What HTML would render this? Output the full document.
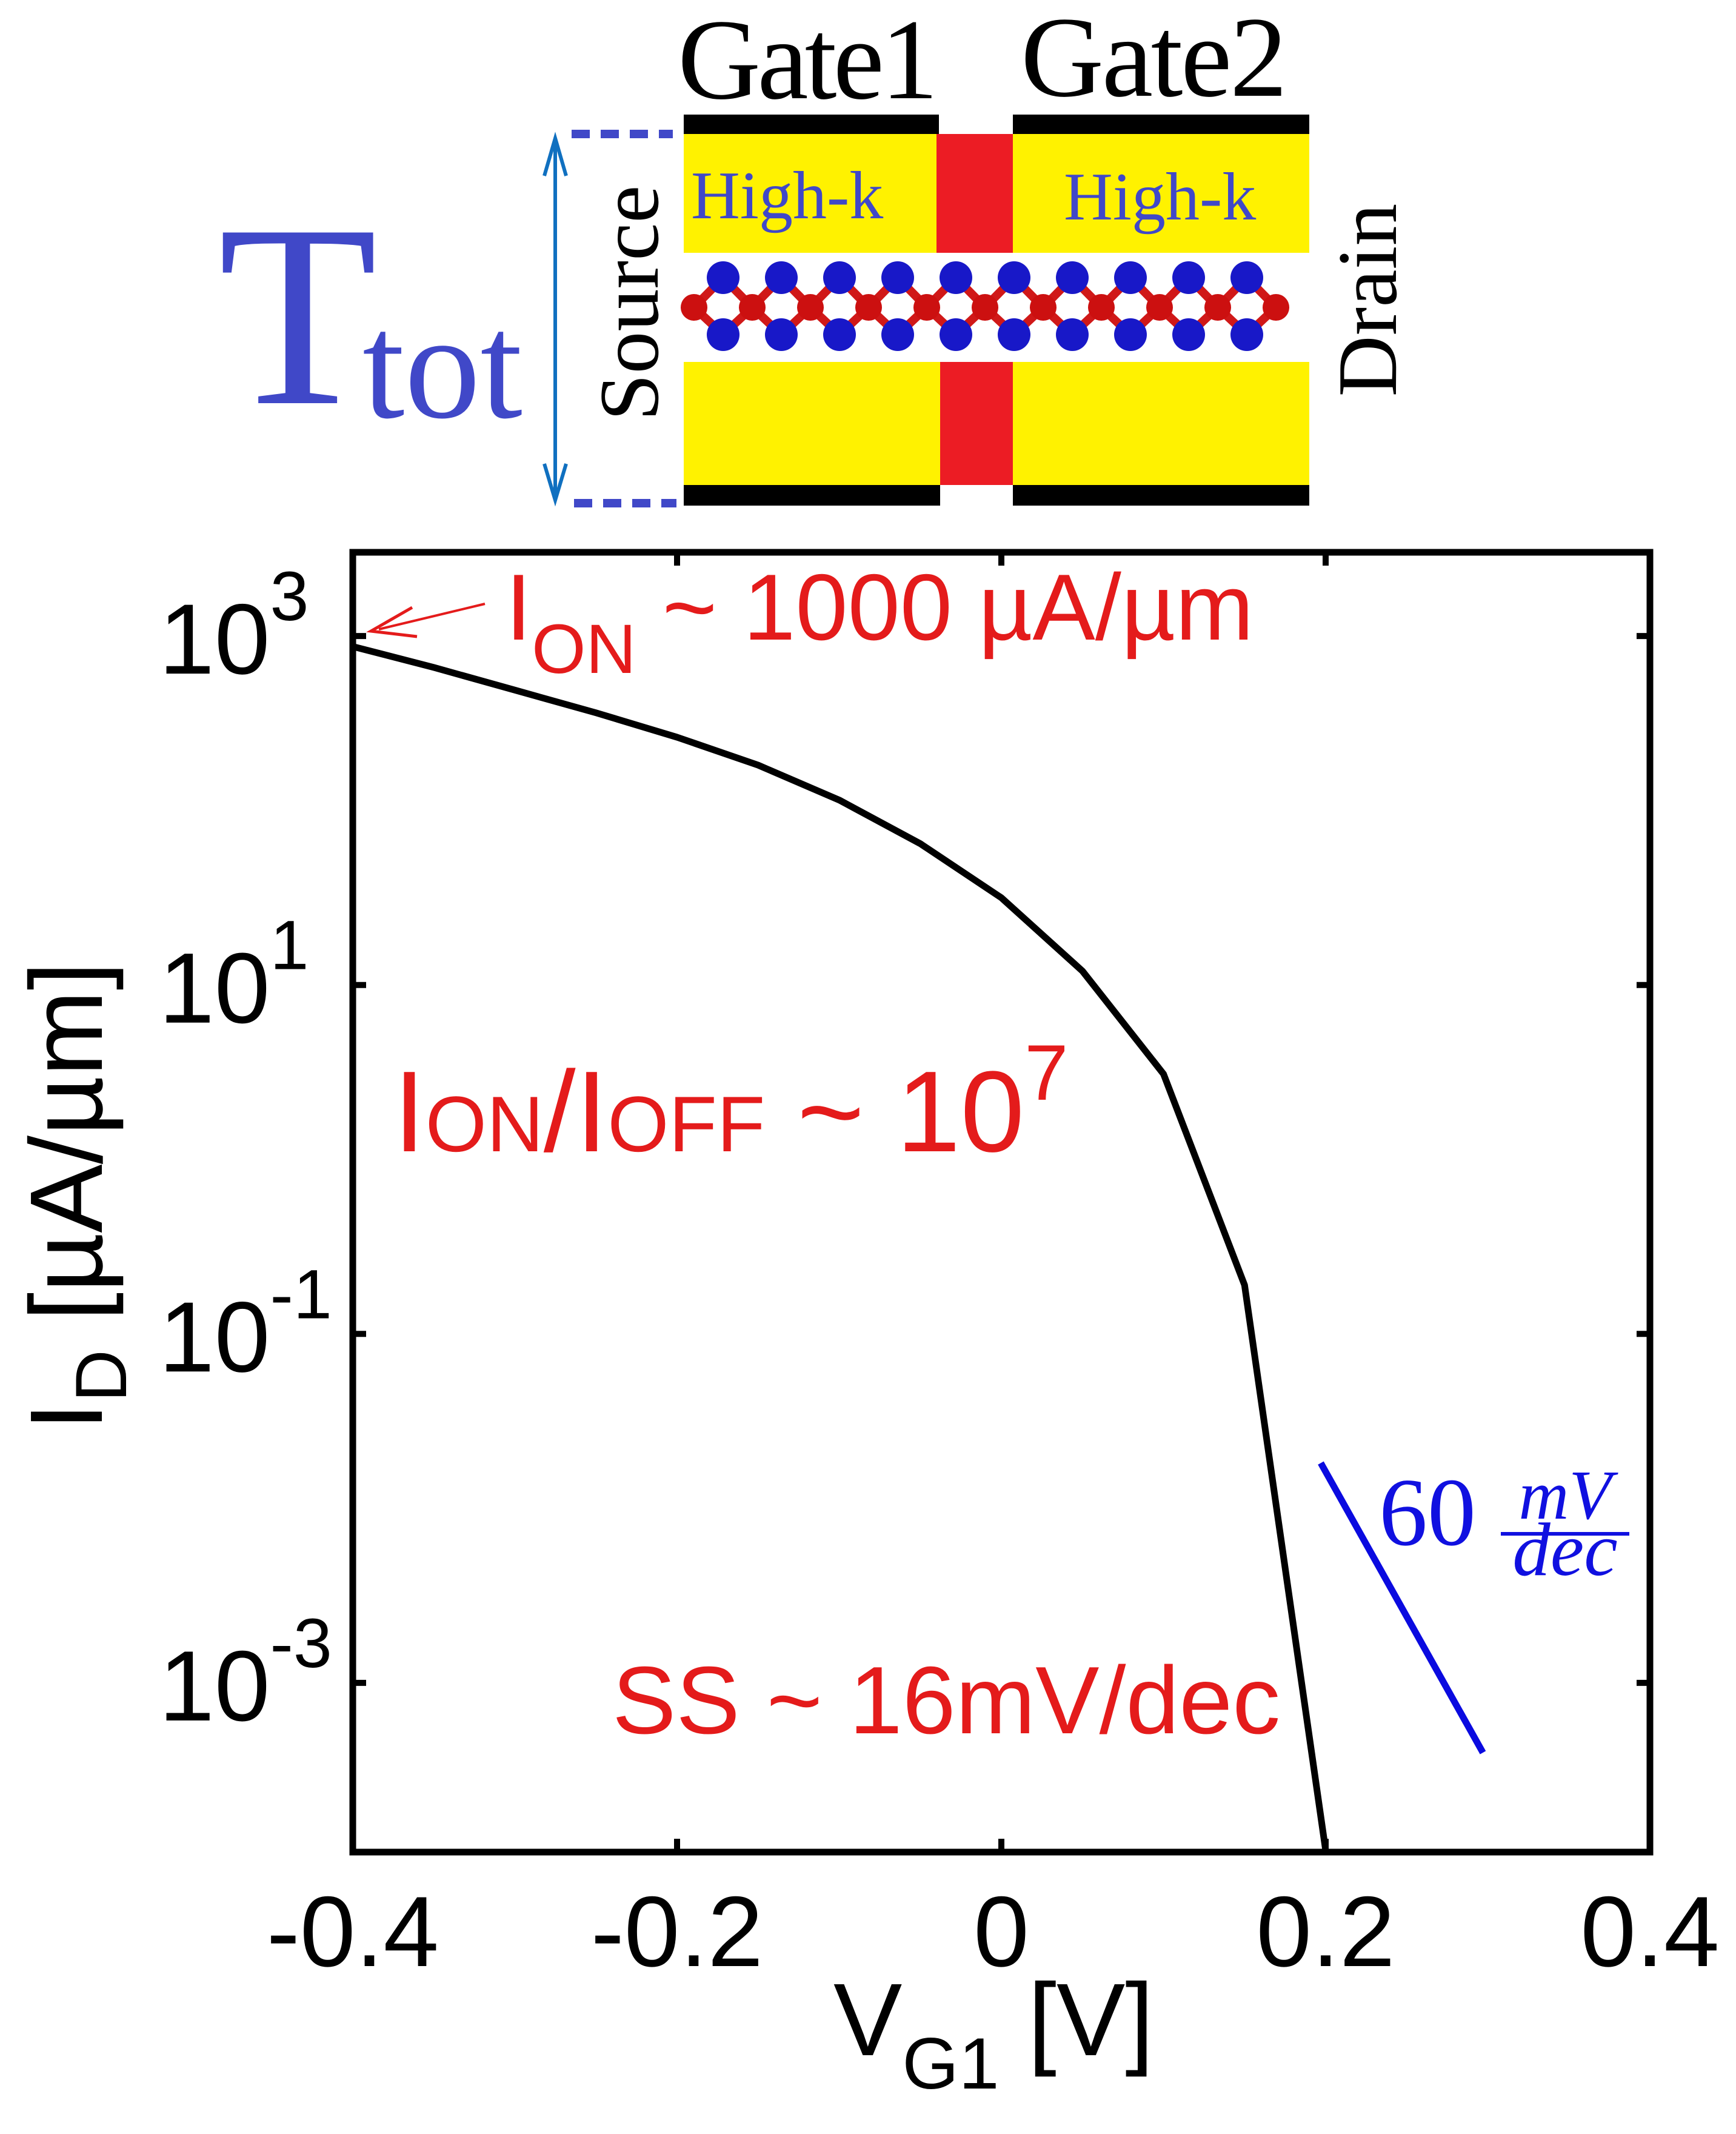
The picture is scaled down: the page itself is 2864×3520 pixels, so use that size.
<!DOCTYPE html>
<html><head><meta charset="utf-8"><style>
html,body{margin:0;padding:0;background:#fff;}
svg{display:block;}
</style></head><body>
<svg id="chart" xmlns="http://www.w3.org/2000/svg" width="2864" height="3520" viewBox="0 0 2864 3520">
  <g id="schematic">
    <rect x="1128" y="189" width="421" height="32" fill="#000"/>
    <rect x="1671" y="189" width="489" height="32" fill="#000"/>
    <rect x="1128" y="221" width="1032" height="196" fill="#fff200"/>
    <rect x="1545" y="221" width="126" height="196" fill="#ec1c24"/>
    <rect x="1128" y="597" width="1032" height="203" fill="#fff200"/>
    <rect x="1551" y="597" width="120" height="203" fill="#ec1c24"/>
    <rect x="1128" y="800" width="423" height="34" fill="#000"/>
    <rect x="1671" y="800" width="489" height="34" fill="#000"/>
    <g id="molecule"></g>
    <line x1="943" y1="221" x2="1110" y2="221" stroke="#4048c8" stroke-width="14" stroke-dasharray="30,18"/>
    <line x1="947" y1="830" x2="1116" y2="830" stroke="#4048c8" stroke-width="14" stroke-dasharray="30,18"/>
    <line x1="916" y1="235" x2="916" y2="815" stroke="#1070c0" stroke-width="6"/>
    <path d="M898,290 L916,228 L934,290" fill="none" stroke="#1070c0" stroke-width="6"/>
    <path d="M898,765 L916,825 L934,765" fill="none" stroke="#1070c0" stroke-width="6"/>
    <text x="360" y="665" font-family="Liberation Serif, serif" font-size="430" fill="#4048c8">T</text>
    <text x="598" y="688" font-family="Liberation Serif, serif" font-size="250" fill="#4048c8">tot</text>
    <text x="1118" y="162" font-family="Liberation Serif, serif" font-size="190" fill="#000" textLength="430">Gate1</text>
    <text x="1684" y="158" font-family="Liberation Serif, serif" font-size="190" fill="#000" textLength="440">Gate2</text>
    <text x="1140" y="360" font-family="Liberation Serif, serif" font-size="112" fill="#4048c8">High-k</text>
    <text x="1755" y="362" font-family="Liberation Serif, serif" font-size="112" fill="#4048c8">High-k</text>
    <text transform="translate(1085,500) rotate(-90)" text-anchor="middle" font-family="Liberation Serif, serif" font-size="140" fill="#000">Source</text>
    <text transform="translate(2303,495) rotate(-90)" text-anchor="middle" font-family="Liberation Serif, serif" font-size="140" fill="#000">Drain</text>
  </g>
  <g id="plot"></g>
  <rect x="582" y="911" width="2140" height="2144" fill="none" stroke="#000" stroke-width="11"/>
  <text transform="translate(168,2360) rotate(-90)" font-family="Liberation Sans, sans-serif" font-size="170" fill="#000">I<tspan font-size="120" dy="40">D</tspan><tspan dy="-40"> [µA/µm]</tspan></text>
  <text x="1375" y="3390" font-family="Liberation Sans, sans-serif" font-size="170" fill="#000">V<tspan font-size="120" dy="55">G1</tspan><tspan dy="-55"> [V]</tspan></text>
  <line x1="800" y1="996" x2="625" y2="1038" stroke="#e41b1b" stroke-width="4"/>
  <path d="M680,1002 L612,1041 L688,1050" fill="none" stroke="#e41b1b" stroke-width="5"/>
  <text x="834" y="1055" font-family="Liberation Sans, sans-serif" font-size="155" fill="#e41b1b">I<tspan font-size="115" dy="55">ON</tspan><tspan dy="-55"> ~ 1000 µA/µm</tspan></text>
  <text x="649" y="1899" font-family="Liberation Sans, sans-serif" font-size="190" fill="#e41b1b">I<tspan font-size="130">ON</tspan><tspan>/I</tspan><tspan font-size="130">OFF</tspan><tspan> ~ 10</tspan><tspan font-size="130" dy="-85">7</tspan></text>
  <text x="1010" y="2859" font-family="Liberation Sans, sans-serif" font-size="158" fill="#e41b1b">SS ~ 16mV/dec</text>
  <text x="2275" y="2548" font-family="Liberation Serif, serif" font-size="160" fill="#1010e0">60</text>
  <text x="2582" y="2505" text-anchor="middle" font-family="Liberation Serif, serif" font-style="italic" font-size="115" fill="#1010e0">mV</text>
  <line x1="2476" y1="2530" x2="2688" y2="2530" stroke="#1010e0" stroke-width="6"/>
  <text x="2582" y="2598" text-anchor="middle" font-family="Liberation Serif, serif" font-style="italic" font-size="125" fill="#1010e0">dec</text>
</svg>
<script>
const vgValues = [-0.4,-0.35,-0.3,-0.25,-0.2,-0.15,-0.1,-0.05,0,0.05,0.1,0.15,0.2];
const logIdValues = [2.94,2.82,2.69,2.56,2.42,2.26,2.06,1.81,1.50,1.08,0.49,-0.72,-3.96];
const refVg = [0.197,0.297];
const refLogId = [-1.74,-3.40];
const xTicks = [-0.4,-0.2,0,0.2,0.4];
const xTickLabels = ["-0.4","-0.2","0","0.2","0.4"];
const yTicks = [3,1,-1,-3];
const yTickExps = ["3","1","-1","-3"];

const NS="http://www.w3.org/2000/svg";
const L=582,R=2722,T=911,B=3055;
const xMin=-0.4,xMax=0.4,yMin=-3.97,yMax=3.48;
function sx(v){return L+(v-xMin)/(xMax-xMin)*(R-L);}
function sy(v){return B-(v-yMin)/(yMax-yMin)*(B-T);}
function mk(tag,attrs,parent){const e=document.createElementNS(NS,tag);for(const k in attrs)e.setAttribute(k,attrs[k]);parent.appendChild(e);return e;}

const plot=document.getElementById('plot');
const defs=mk('defs',{},plot);
const cp=mk('clipPath',{id:'clip'},defs);
mk('rect',{x:L,y:T,width:R-L,height:B-T},cp);

xTicks.forEach((t,i)=>{
  const x=sx(t);
  const a=mk('line',{x1:x,y1:B,x2:x,y2:B-22,stroke:'#000','stroke-width':10},plot);
  
  
  const b=mk('line',{x1:x,y1:T,x2:x,y2:T+22,stroke:'#000','stroke-width':10},plot);
  
  
  const tx=mk('text',{x:x,y:3243,'text-anchor':'middle','font-family':'Liberation Sans, sans-serif','font-size':165,fill:'#000'},plot);
  tx.textContent=xTickLabels[i];
  
  
});
yTicks.forEach((t,i)=>{
  const y=sy(t);
  const a=mk('line',{x1:L,y1:y,x2:L+22,y2:y,stroke:'#000','stroke-width':10},plot);
  
  
  const b=mk('line',{x1:R,y1:y,x2:R-22,y2:y,stroke:'#000','stroke-width':10},plot);
  
  
  const tx=mk('text',{x:262,y:y+62,'font-family':'Liberation Sans, sans-serif','font-size':165,fill:'#000'},plot);
  
  
  const base=mk('tspan',{},tx); base.textContent='10';
  const sup=mk('tspan',{'font-size':115,dy:-88},tx); sup.textContent=yTickExps[i];
});

const pts=vgValues.map((v,i)=>sx(v)+','+sy(logIdValues[i])).join(' ');
const curve=mk('polyline',{points:pts,fill:'none',stroke:'#000','stroke-width':11,'stroke-linejoin':'round','clip-path':'url(#clip)'},plot);



const ref=mk('line',{x1:sx(refVg[0]),y1:sy(refLogId[0]),x2:sx(refVg[1]),y2:sy(refLogId[1]),stroke:'#0a0ae0','stroke-width':11},plot);



// molecule decoration
const mol=document.getElementById('molecule');
const n=11, x0=1145, dx=96;
for(let i=0;i<n;i++){
  const xr=x0+i*dx, xb=xr+dx/2;
  if(i<n-1){
    const l1=mk('path',{d:`M${xr},507 L${xb},458 L${xr+dx},507 L${xb},552 Z`,fill:'none',stroke:'#d01818','stroke-width':14},mol);
    
    
  }
}
for(let i=0;i<n;i++){
  const xr=x0+i*dx, xb=xr+dx/2;
  const r=mk('circle',{cx:xr,cy:507,r:22,fill:'#cc1010'},mol);
  
  
  if(i<n-1){
    const b1=mk('circle',{cx:xb,cy:458,r:27,fill:'#1818c8'},mol);
    
    
    const b2=mk('circle',{cx:xb,cy:552,r:27,fill:'#1818c8'},mol);
    
    
  }
}
</script>
</body></html>
